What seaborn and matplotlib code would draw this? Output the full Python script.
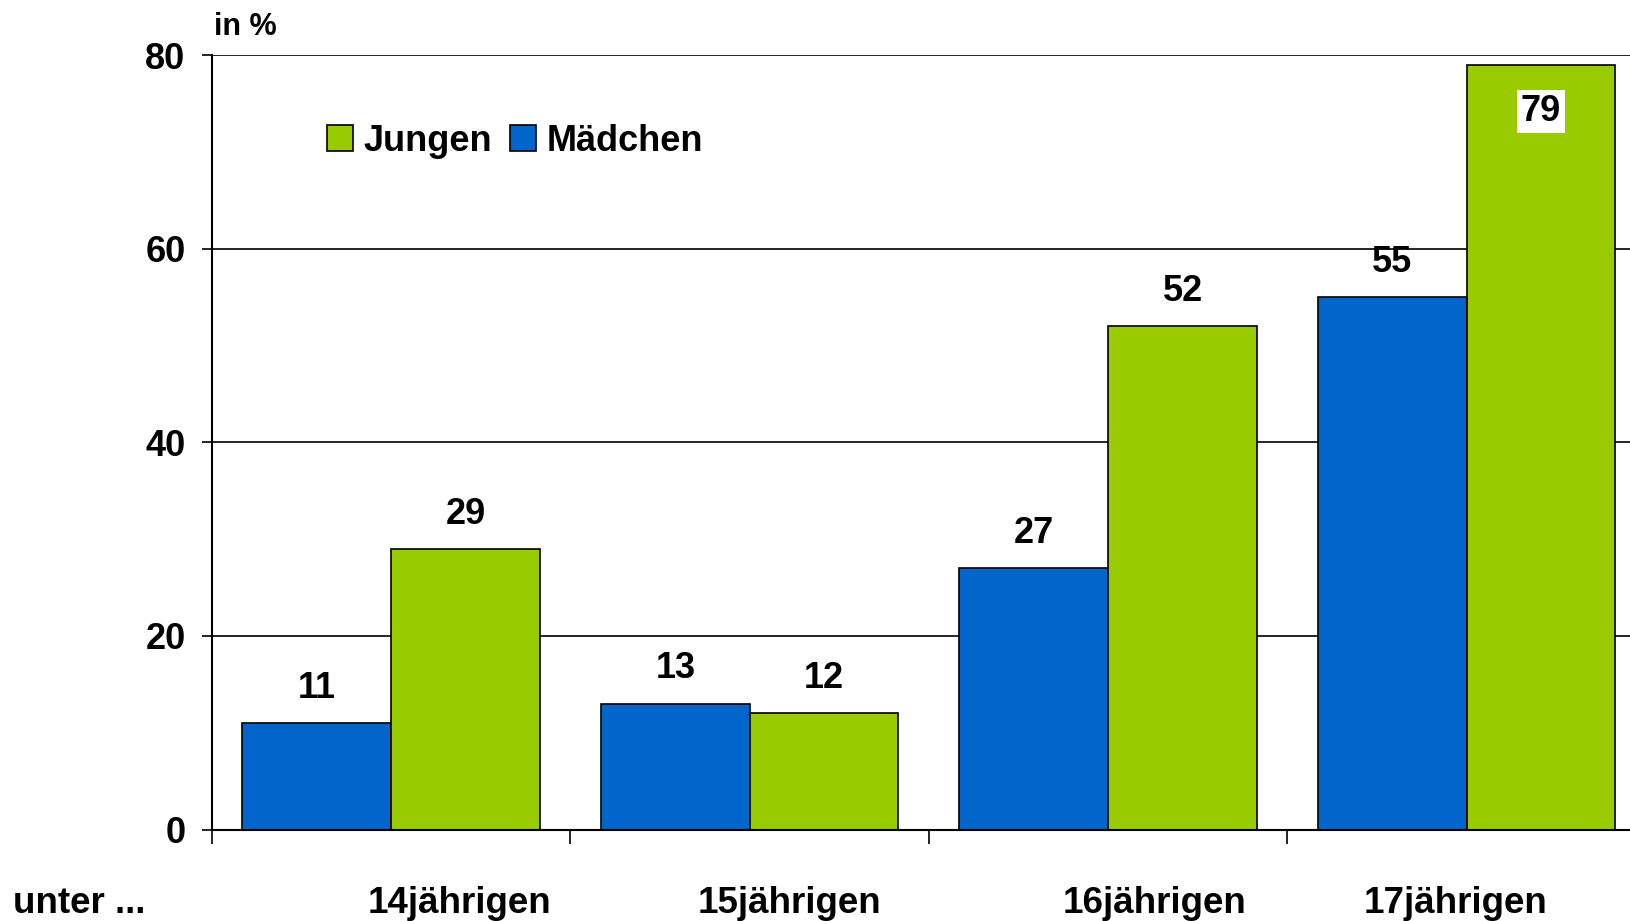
import pandas as pd
import matplotlib.pyplot as plt
import matplotlib.transforms as mtrans
from matplotlib.patches import Patch
import seaborn as sns

sns.set_theme(style="white")
plt.rcParams['font.family'] = ['Liberation Sans', 'DejaVu Sans']
plt.rcParams['font.weight'] = 'bold'
plt.rcParams['text.color'] = 'black'
plt.rcParams['ytick.color'] = 'black'
plt.rcParams['xtick.color'] = 'black'

# Daten
kategorien = ['14jährigen', '15jährigen', '16jährigen', '17jährigen']
maedchen = [11, 13, 27, 55]
jungen = [29, 12, 52, 79]
# Beschriftungsversatz (wie im Original leicht verschoben)
label_offset = [0.19, 0.11, 0.13, -0.03]

df = pd.DataFrame({
    'Alter': kategorien * 2,
    'Geschlecht': ['Mädchen'] * 4 + ['Jungen'] * 4,
    'Wert': maedchen + jungen,
})

colors = {'Mädchen': '#0066CC', 'Jungen': '#99CC00'}

fig = plt.figure(figsize=(16.3, 9.21), dpi=100)
ax = fig.add_axes([0.130, 0.0993, 1.0098 - 0.130, 0.940 - 0.0993])

sns.barplot(data=df, x='Alter', y='Wert', hue='Geschlecht',
            hue_order=['Mädchen', 'Jungen'], palette=colors,
            width=0.83, edgecolor='black', linewidth=1.2, ax=ax,
            legend=False, saturation=1)

ax.set_xlim(-0.5, 3.5)
ax.set_ylim(0, 80)
ax.set_yticks([0, 20, 40, 60, 80])
ax.yaxis.grid(True, color='black', lw=1.2)
ax.set_axisbelow(True)
ax.tick_params(axis='y', labelsize=26, length=7, width=1.2, left=True, pad=12)
for t in ax.get_yticklabels():
    t.set_fontweight('bold')

ax.set_xticks([-0.5, 0.5, 1.5, 2.5])
ax.set_xticklabels([])
ax.tick_params(axis='x', length=10, width=1.2, bottom=True)
ax.set_xlabel('')
ax.set_ylabel('')

for s in ['top', 'right']:
    ax.spines[s].set_visible(False)
for s in ['left', 'bottom']:
    ax.spines[s].set_color('black')
    ax.spines[s].set_linewidth(1.5)

# Wertbeschriftung
for cont in ax.containers:
    for bar in cont:
        h = bar.get_height()
        xc = bar.get_x() + bar.get_width() / 2
        if h >= 75:
            ax.text(xc, h - 4.8, f"{h:.0f}", ha='center', va='center', fontsize=26,
                    fontweight='bold', bbox=dict(facecolor='white', edgecolor='none', pad=2.5))
        else:
            ax.text(xc, h + 3.6, f"{h:.0f}", ha='center', va='center', fontsize=26,
                    fontweight='bold')

# Kategorienbeschriftung
blend = mtrans.blended_transform_factory(ax.transData, fig.transFigure)
for i, k in enumerate(kategorien):
    ax.text(i + label_offset[i], 0.0195, k, transform=blend, ha='center', va='center',
            fontsize=26.5, fontweight='bold')
fig.text(0.0077, 0.0195, 'unter ...', ha='left', va='center', fontsize=26.5, fontweight='bold')
fig.text(0.131, 0.971, 'in %', ha='left', va='center', fontsize=22, fontweight='bold')

# Legende
handles = [Patch(facecolor=colors['Jungen'], edgecolor='black', lw=1.2, label='Jungen'),
           Patch(facecolor=colors['Mädchen'], edgecolor='black', lw=1.2, label='Mädchen')]
fig.legend(handles=handles, loc='center left', bbox_to_anchor=(0.2009, 0.8467), ncol=2,
           frameon=False, handlelength=0.7, handleheight=0.75, borderaxespad=0,
           handletextpad=0.3, columnspacing=0.5, borderpad=0,
           prop={'weight': 'bold', 'size': 26})

plt.savefig('out.png', dpi=100)
